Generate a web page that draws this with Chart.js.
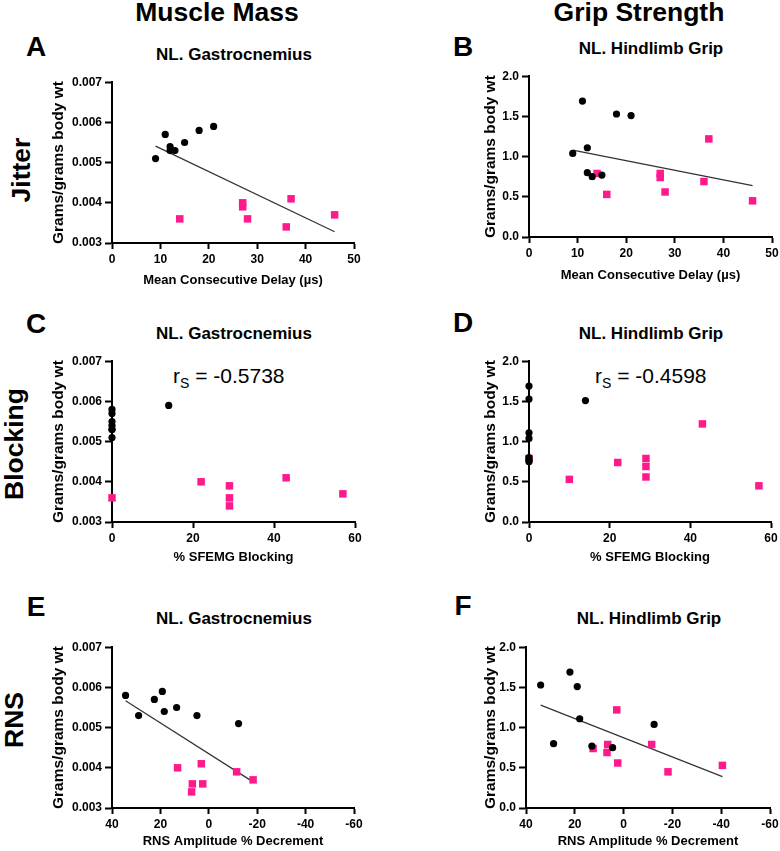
<!DOCTYPE html>
<html>
<head>
<meta charset="utf-8">
<script src="https://cdn.jsdelivr.net/npm/chart.js@4.4.0/dist/chart.umd.min.js"></script>
<style>
    body { margin: 0; background: #fff; overflow: hidden; width: 780px; height: 851px; position: relative;
           font-family: Arial, "Liberation Sans", sans-serif; color: #000; }
    .lbl { position: absolute; transform: translate(-50%, -50%); line-height: 1; font-weight: bold; white-space: nowrap; }
    .rot { transform: translate(-50%, -50%) rotate(-90deg); }
    .rs { position: absolute; line-height: 1; font-size: 21px; white-space: nowrap; }
    .rs span { font-size: 14px; position: relative; top: 5px; }
    canvas { position: absolute; }
</style>
</head>
<body>

<div class="lbl" style="left:217px; top:12px; font-size:26.5px;">Muscle Mass</div>
<div class="lbl" style="left:639px; top:12px; font-size:26.5px;">Grip Strength</div>

<div class="lbl rot" style="left:21px; top:170px; font-size:26.5px;">Jitter</div>
<div class="lbl rot" style="left:14px; top:444px; font-size:26.5px;">Blocking</div>
<div class="lbl rot" style="left:14px; top:720px; font-size:26.5px;">RNS</div>

<div class="lbl" style="left:36px; top:47px; font-size:28px;">A</div>
<div class="lbl" style="left:463px; top:47px; font-size:28px;">B</div>
<div class="lbl" style="left:36px; top:324px; font-size:28px;">C</div>
<div class="lbl" style="left:463px; top:323px; font-size:28px;">D</div>
<div class="lbl" style="left:36px; top:607px; font-size:28px;">E</div>
<div class="lbl" style="left:463px; top:606px; font-size:28px;">F</div>

<div class="lbl" style="left:234px; top:54px; font-size:17px;">NL. Gastrocnemius</div>
<div class="lbl" style="left:651px; top:48px; font-size:17px;">NL. Hindlimb Grip</div>
<div class="lbl" style="left:234px; top:333px; font-size:17px;">NL. Gastrocnemius</div>
<div class="lbl" style="left:651px; top:333px; font-size:17px;">NL. Hindlimb Grip</div>
<div class="lbl" style="left:234px; top:618px; font-size:17px;">NL. Gastrocnemius</div>
<div class="lbl" style="left:649px; top:618px; font-size:17px;">NL. Hindlimb Grip</div>

<div class="rs" style="left:173px; top:365px;">r<span>S</span> = -0.5738</div>
<div class="rs" style="left:595px; top:365px;">r<span>S</span> = -0.4598</div>

<canvas id="chartA" width="334" height="221" style="left:32px; top:72px;"></canvas>
<canvas id="chartB" width="335" height="221" style="left:449px; top:66px;"></canvas>
<canvas id="chartC" width="335" height="221" style="left:32px; top:351px;"></canvas>
<canvas id="chartD" width="334" height="221" style="left:449px; top:351px;"></canvas>
<canvas id="chartE" width="334" height="221" style="left:32px; top:637px;"></canvas>
<canvas id="chartF" width="336" height="221" style="left:446px; top:637px;"></canvas>

<script>
    // A: jitter vs gastrocnemius mass
    var aBlackX = [9, 11, 12, 12, 13, 15, 18, 21];
    var aBlackY = [0.0051, 0.0057, 0.0054, 0.0053, 0.0053, 0.0055, 0.0058, 0.0059];
    var aPinkX = [14, 27, 27, 28, 36, 37, 46];
    var aPinkY = [0.0036, 0.0040, 0.0039, 0.0036, 0.0034, 0.0041, 0.0037];
    var aFitX = [9, 46];
    var aFitY = [0.00541, 0.00328];

    // B: jitter vs hindlimb grip
    var bBlackX = [9, 11, 12, 12, 13, 15, 18, 21];
    var bBlackY = [1.04, 1.69, 1.11, 0.80, 0.75, 0.77, 1.53, 1.51];
    var bPinkX = [14, 16, 27, 27, 28, 36, 37, 46];
    var bPinkY = [0.79, 0.53, 0.79, 0.74, 0.56, 0.69, 1.22, 0.45];
    var bFitX = [9, 46];
    var bFitY = [1.08, 0.64];

    // C: blocking vs gastrocnemius mass
    var cBlackX = [0, 0, 0, 0, 0, 0, 0, 14];
    var cBlackY = [0.0051, 0.0057, 0.0054, 0.0053, 0.0053, 0.0055, 0.0058, 0.0059];
    var cPinkX = [0, 22, 29, 29, 29, 43, 57];
    var cPinkY = [0.0036, 0.0040, 0.0039, 0.0036, 0.0034, 0.0041, 0.0037];

    // D: blocking vs hindlimb grip
    var dBlackX = [0, 0, 0, 0, 0, 0, 0, 14];
    var dBlackY = [1.04, 1.69, 1.11, 0.80, 0.75, 0.77, 1.53, 1.51];
    var dPinkX = [0, 10, 22, 29, 29, 29, 43, 57];
    var dPinkY = [0.79, 0.53, 0.74, 0.79, 0.69, 0.56, 1.22, 0.45];

    // E: RNS decrement vs gastrocnemius mass
    var eBlackX = [34.4, 29, 22.5, 19.2, 18.4, 13.3, 4.9, -12.3];
    var eBlackY = [0.0058, 0.0053, 0.0057, 0.0059, 0.0054, 0.0055, 0.0053, 0.0051];
    var ePinkX = [12.9, 6.8, 7.1, 3.1, 2.5, -11.5, -18.3];
    var ePinkY = [0.0040, 0.0036, 0.0034, 0.0041, 0.0036, 0.0039, 0.0037];
    var eFitX = [34.4, -18.3];
    var eFitY = [0.00567, 0.00365];

    // F: RNS decrement vs hindlimb grip
    var fBlackX = [34, 28.7, 22, 19, 18, 13, 4.5, -12.5];
    var fBlackY = [1.53, 0.80, 1.69, 1.51, 1.11, 0.77, 0.75, 1.04];
    var fPinkX = [12.5, 6.5, 6.8, 2.8, 2.4, -11.5, -18.2, -40.5];
    var fPinkY = [0.74, 0.79, 0.69, 1.22, 0.56, 0.79, 0.45, 0.53];
    var fFitX = [34, -40.5];
    var fFitY = [1.28, 0.39];

    var massTicks = [0.003, 0.007, 0.001];
    var gripTicks = [0, 2, 0.5];
    var jitterTicks = [0, 50, 10];
    var blockTicks = [0, 60, 20];
    var rnsTicks = [-60, 40, 20];

    var PINK = "#ff1a8c";
    var FONT = 'Arial, "Liberation Sans", sans-serif';

    function pts(xs, ys) {
        var out = [];
        for (var i = 0; i < xs.length; i++) {
            out.push({ x: xs[i], y: ys[i] });
        }
        return out;
    }

    function buildPanel(id, p) {
        var datasets = [
            { data: pts(p.blackX, p.blackY), pointStyle: "circle", pointRadius: 3.6, backgroundColor: "#000", borderWidth: 0, clip: false },
            { data: pts(p.pinkX, p.pinkY), pointStyle: "rect", pointRadius: 5.3, backgroundColor: PINK, borderWidth: 0, clip: false }
        ];
        if (p.fitX) {
            datasets.push({ data: pts(p.fitX, p.fitY), showLine: true, borderColor: "#333", borderWidth: 1.2, pointRadius: 0, clip: false });
        }

        new Chart(document.getElementById(id), {
            type: "scatter",
            data: { datasets: datasets },
            options: {
                responsive: false,
                animation: false,
                devicePixelRatio: 1,
                events: [],
                layout: { padding: { top: 10, right: 12, left: 0, bottom: 0 } },
                plugins: { legend: { display: false }, tooltip: { enabled: false } },
                scales: {
                    x: {
                        type: "linear",
                        min: p.xTicks[0], max: p.xTicks[1], reverse: !!p.reverse,
                        ticks: { stepSize: p.xTicks[2], color: "#000", padding: 3, maxRotation: 0, autoSkip: false,
                                 font: { family: FONT, size: 12, weight: "bold" },
                                 callback: function (v) { return String(v); } },
                        grid: { drawOnChartArea: false, color: "#000", tickLength: 6, tickWidth: 2 },
                        border: { color: "#000", width: 2 },
                        title: { display: true, text: p.xTitle, color: "#000",
                                 font: { family: FONT, size: 13, weight: "bold" },
                                 padding: { top: 0, bottom: p.xPad } },
                        afterFit: function (s) { s.height = 50; }
                    },
                    y: {
                        type: "linear",
                        min: p.yTicks[0], max: p.yTicks[1],
                        ticks: { stepSize: p.yTicks[2], color: "#000", padding: 3,
                                 font: { family: FONT, size: 12, weight: "bold" },
                                 callback: function (v) { return v.toFixed(p.yDec); } },
                        grid: { drawOnChartArea: false, color: "#000", tickLength: 7, tickWidth: 2 },
                        border: { color: "#000", width: 2 },
                        title: { display: true, text: "Grams/grams body wt", color: "#000",
                                 font: { family: FONT, size: 15.5, weight: "bold" },
                                 padding: { top: p.yPad, bottom: 0 } },
                        afterFit: function (s) { s.width = 80; }
                    }
                }
            }
        });
    }

    var jitterTitle = "Mean Consecutive Delay (\u00b5s)";
    var blockTitle = "% SFEMG Blocking";
    var rnsTitle = "RNS Amplitude % Decrement";

    buildPanel("chartA", { blackX: aBlackX, blackY: aBlackY, pinkX: aPinkX, pinkY: aPinkY, fitX: aFitX, fitY: aFitY,
        xTicks: jitterTicks, yTicks: massTicks, yDec: 3, xTitle: jitterTitle, xPad: 5, yPad: 17 });
    buildPanel("chartB", { blackX: bBlackX, blackY: bBlackY, pinkX: bPinkX, pinkY: bPinkY, fitX: bFitX, fitY: bFitY,
        xTicks: jitterTicks, yTicks: gripTicks, yDec: 1, xTitle: jitterTitle, xPad: 4, yPad: 32 });
    buildPanel("chartC", { blackX: cBlackX, blackY: cBlackY, pinkX: cPinkX, pinkY: cPinkY,
        xTicks: blockTicks, yTicks: massTicks, yDec: 3, xTitle: blockTitle, xPad: 7, yPad: 17 });
    buildPanel("chartD", { blackX: dBlackX, blackY: dBlackY, pinkX: dPinkX, pinkY: dPinkY,
        xTicks: blockTicks, yTicks: gripTicks, yDec: 1, xTitle: blockTitle, xPad: 7, yPad: 32 });
    buildPanel("chartE", { blackX: eBlackX, blackY: eBlackY, pinkX: ePinkX, pinkY: ePinkY, fitX: eFitX, fitY: eFitY,
        xTicks: rnsTicks, yTicks: massTicks, yDec: 3, xTitle: rnsTitle, xPad: 8.5, yPad: 17, reverse: true });
    buildPanel("chartF", { blackX: fBlackX, blackY: fBlackY, pinkX: fPinkX, pinkY: fPinkY, fitX: fFitX, fitY: fFitY,
        xTicks: rnsTicks, yTicks: gripTicks, yDec: 1, xTitle: rnsTitle, xPad: 8.5, yPad: 35, reverse: true });
</script>
</body>
</html>
